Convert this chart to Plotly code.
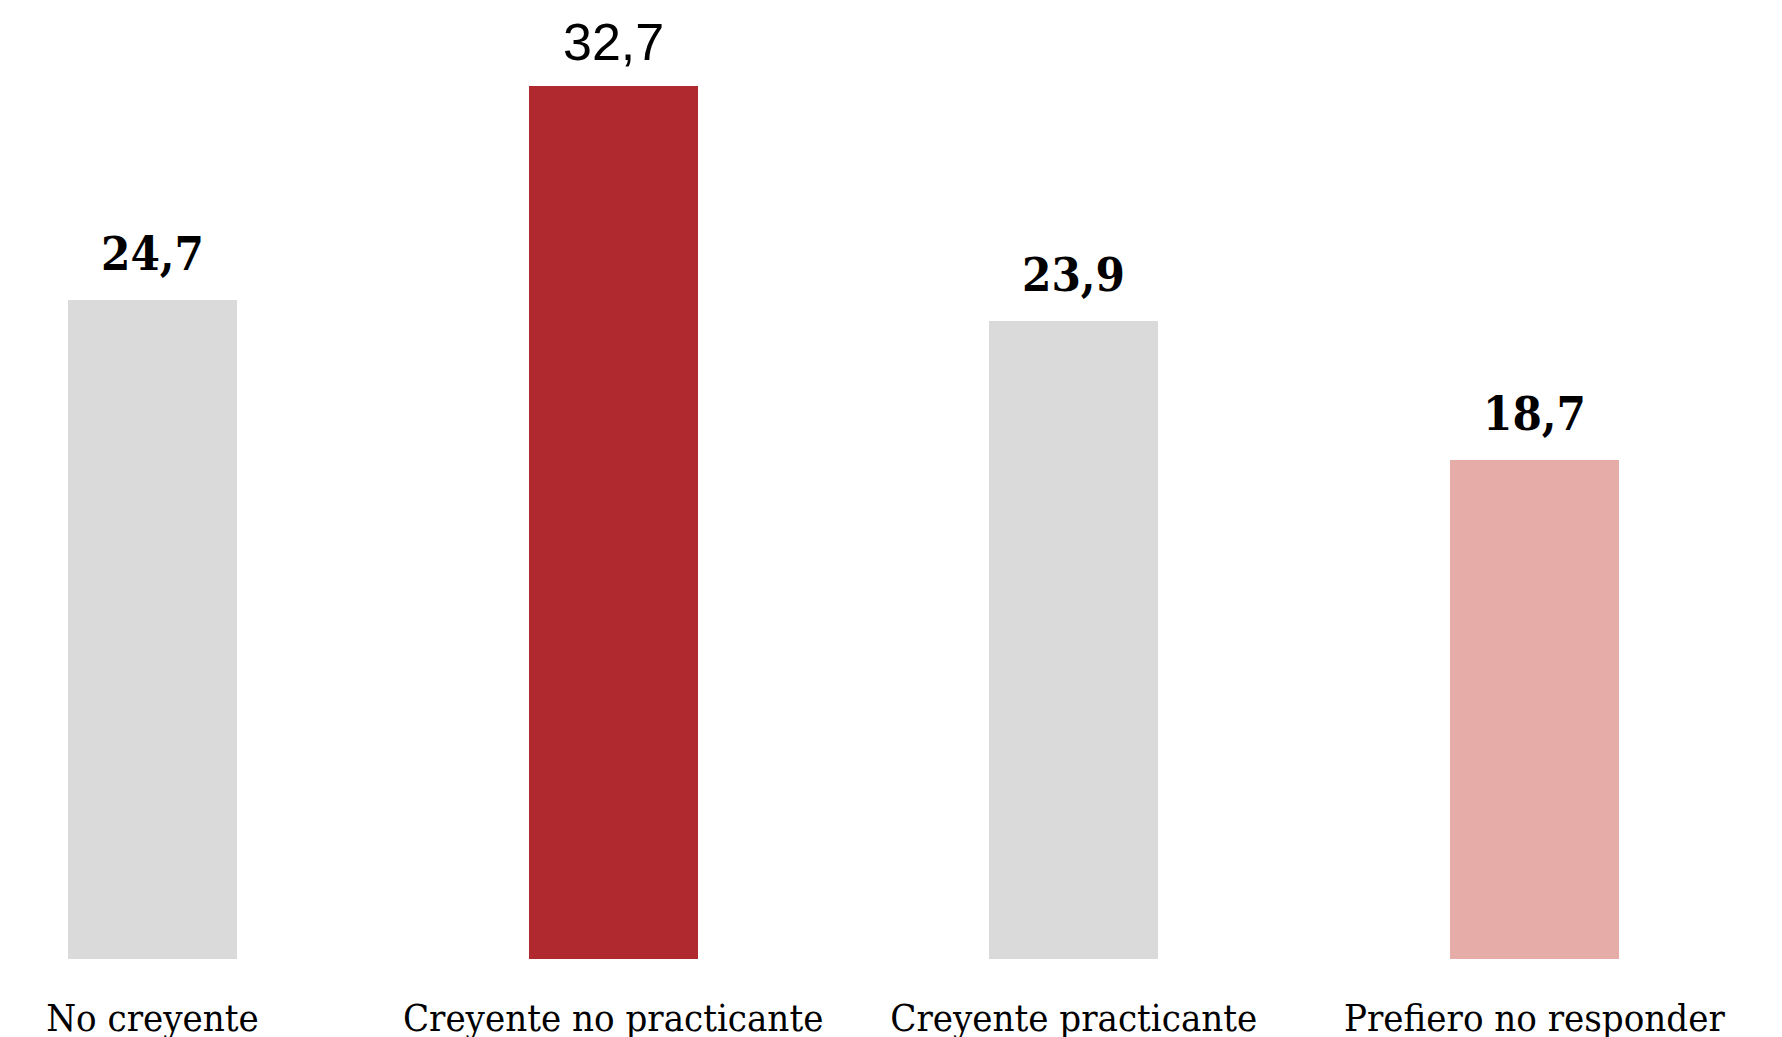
import plotly.graph_objects as go

categories = ["No creyente", "Creyente no practicante", "Creyente practicante", "Prefiero no responder"]
values = [24.7, 32.7, 23.9, 18.7]
value_labels = ["24,7", "32,7", "23,9", "18,7"]
colors = ["#dadada", "#b0292f", "#dadada", "#e6aca7"]

SERIF = "Roboto Slab, DejaVu Serif Condensed, DejaVu Serif, serif"
label_fonts = [
    dict(family=SERIF, size=47, color="#000000", weight="bold"),
    dict(family="Liberation Sans, Arial, sans-serif", size=52, color="#000000"),
    dict(family=SERIF, size=47, color="#000000", weight="bold"),
    dict(family=SERIF, size=47, color="#000000", weight="bold"),
]
label_shifts = [17, 13, 17, 17]

fig = go.Figure(
    go.Bar(
        x=categories,
        y=values,
        marker=dict(color=colors, line=dict(width=0)),
        width=0.367,
        hoverinfo="skip",
    )
)

for cat, v, lab, f, s in zip(categories, values, value_labels, label_fonts, label_shifts):
    fig.add_annotation(
        x=cat, y=v, text=lab, showarrow=False,
        xanchor="center", yanchor="bottom", yshift=s, font=f,
    )

fig.update_layout(
    width=1782,
    height=1037,
    margin=dict(l=0, r=0, t=0, b=86),
    paper_bgcolor="white",
    plot_bgcolor="white",
    showlegend=False,
    bargap=0,
    xaxis=dict(
        type="category",
        range=[-0.3137, 3.555],
        showgrid=False,
        zeroline=False,
        showline=False,
        ticks="",
        tickfont=dict(family=SERIF, size=38, color="#000000"),
        ticklabelstandoff=33,
    ),
    yaxis=dict(
        range=[0, 35.63],
        showgrid=False,
        zeroline=False,
        showline=False,
        showticklabels=False,
        ticks="",
    ),
)

fig.write_html("out.html")
